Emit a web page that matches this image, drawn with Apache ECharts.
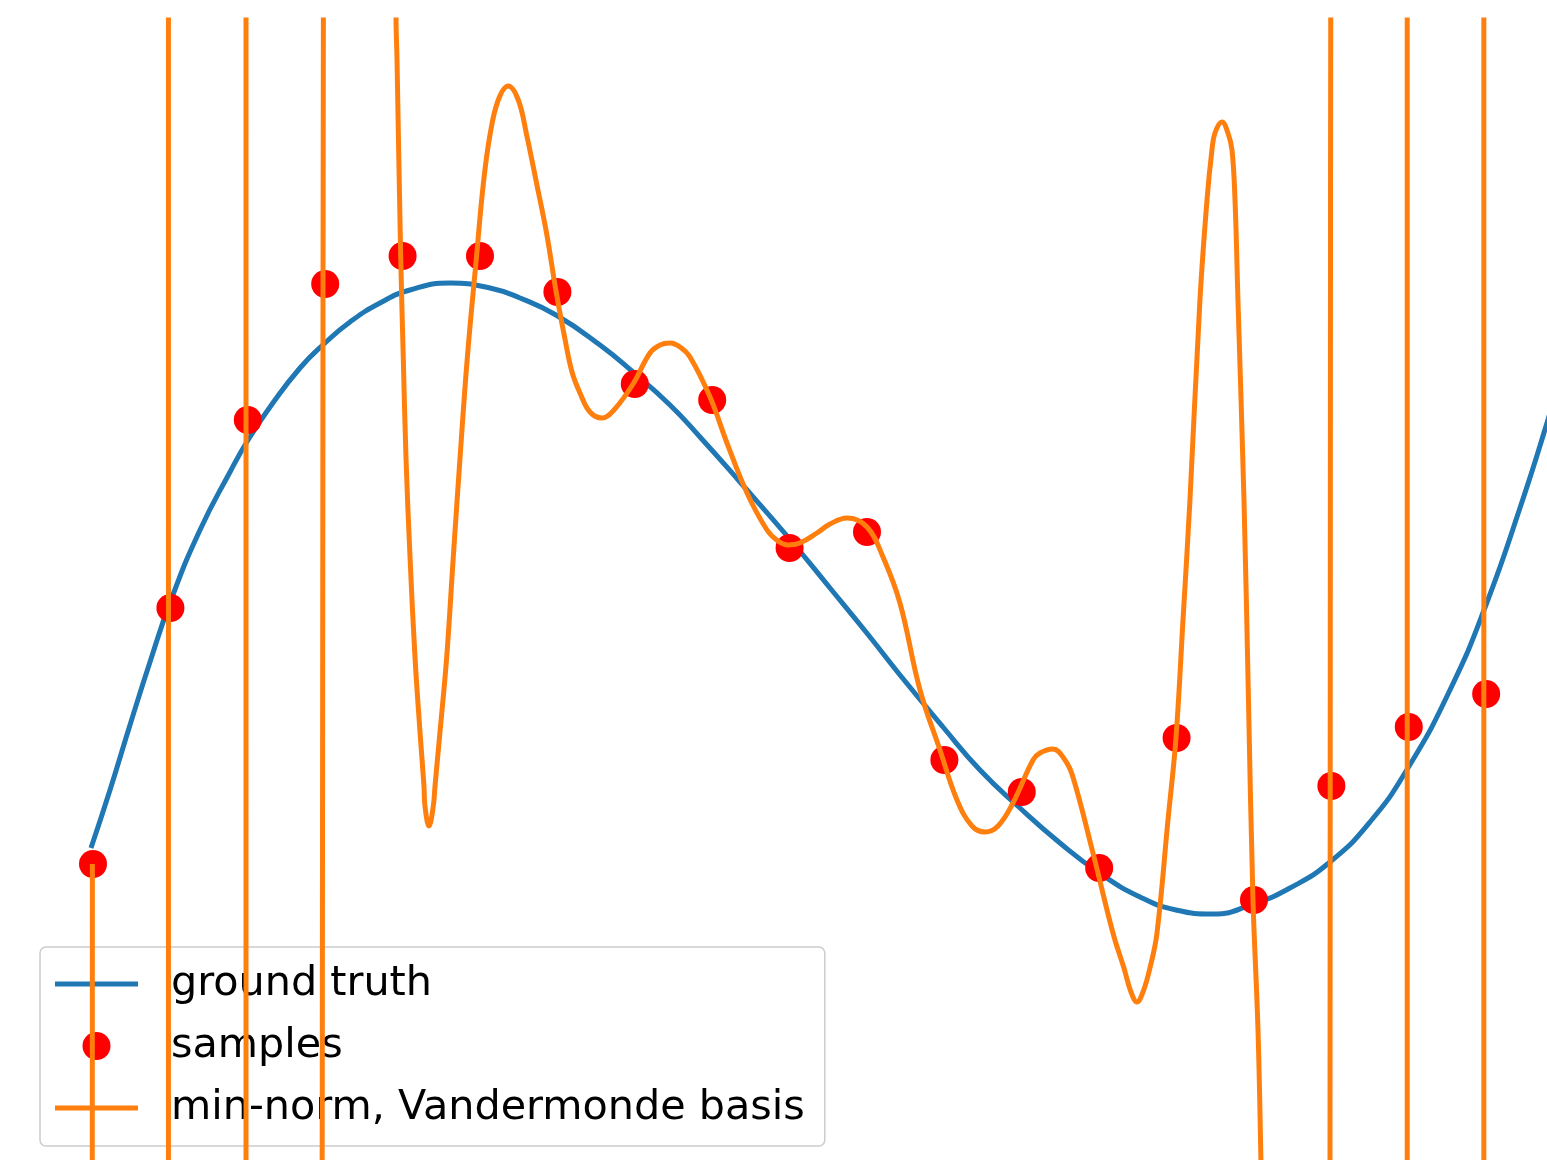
<!DOCTYPE html>
<html>
<head>
<meta charset="utf-8">
<title>min-norm interpolation</title>
<script src="https://cdn.jsdelivr.net/npm/echarts@6/dist/echarts.min.js"></script>
<style>
  html, body { margin: 0; padding: 0; background: #ffffff; }
  #chart { width: 1547px; height: 1160px; }
</style>
</head>
<body>
<div id="chart"></div>
<script>
// Noisy samples taken at equally spaced positions 0..18
const sampleX = [0, 1, 2, 3, 4, 5, 6, 7, 8, 9, 10, 11, 12, 13, 14, 15, 16, 17, 18];
const sampleY = [-0.26, 0.38, 0.85, 1.19, 1.26, 1.26, 1.17, 0.94, 0.90, 0.53, 0.57,
                 0.00, -0.08, -0.27, 0.055, -0.35, -0.065, 0.0825, 0.165];

// Smooth underlying function
const truthX = [-0.026, 0.2196, 0.478, 0.7364, 1.0078, 1.3824, 1.770, 2.0026, 2.2868, 2.6744,
                2.9974, 3.3204, 3.708, 4.0956, 4.6124, 5.1292, 5.5168, 5.9819, 6.5504, 6.9767,
                7.4548, 7.8424, 8.3592, 8.9793, 9.522, 9.9871, 10.4264, 10.9819, 11.4599,
                11.9767, 12.4935, 12.9845, 13.5271, 13.9922, 14.4703, 14.9871, 15.4651,
                15.9819, 16.4987, 16.9897, 17.5323, 17.9974, 18.4367, 18.7855, 18.992];
const truthY = [-0.22, -0.075, 0.0875, 0.245, 0.40, 0.575, 0.72, 0.80, 0.8825, 0.98,
                1.0425, 1.095, 1.1425, 1.175, 1.1925, 1.18, 1.155, 1.1125, 1.0375, 0.97,
                0.8875, 0.8075, 0.695, 0.5575, 0.43, 0.32, 0.2125, 0.0825, -0.025,
                -0.12, -0.2075, -0.28, -0.3425, -0.375, -0.385, -0.36, -0.32,
                -0.255, -0.155, -0.02, 0.175, 0.3875, 0.63, 0.8425, 0.98];

// Minimum-norm interpolant in the monomial (Vandermonde) basis;
// its large excursions leave the plotting window and are clipped.
const fitX = [-0.008, -0.012, 0.50,
              0.975, 0.975, 0.975, 1.48,
              1.977, 1.977, 1.977, 2.46,
              2.94, 2.972, 3.0, 3.45,
              3.89, 3.915, 3.928, 3.975, 4.009, 4.044, 4.096, 4.160, 4.225, 4.276, 4.289,
              4.341, 4.397, 4.419, 4.483, 4.570, 4.655, 4.742, 4.836, 4.957, 5.043, 5.129,
              5.236, 5.366, 5.495, 5.603, 5.733, 5.862, 5.982, 6.098, 6.189, 6.292, 6.421,
              6.576, 6.731, 6.977, 7.196, 7.326, 7.455, 7.584, 7.713, 7.972, 8.191, 8.450,
              8.708, 8.850, 8.979, 9.134, 9.354, 9.522, 9.742, 10.0, 10.207, 10.426, 10.685,
              10.943, 11.163, 11.357, 11.525, 11.693, 11.886, 12.145, 12.235, 12.403, 12.558,
              12.661, 12.920, 13.178, 13.320, 13.411, 13.488, 13.566, 13.656, 13.747, 13.889,
              13.992, 14.083, 14.173, 14.302, 14.393, 14.457, 14.496, 14.587, 14.664, 14.716,
              14.755, 14.793, 14.871, 14.929, 14.987, 15.052, 15.090, 15.155, 15.181,
              15.55,
              15.97, 15.985, 16.0, 16.5,
              16.98, 16.98, 16.98, 17.48,
              17.97, 17.97, 17.97];
const fitY = [-0.26, -3.0, -10,
              -3.0, 0.38, 3.0, 10,
              3.0, 0.85, -3.0, -10,
              -3.0, 1.19, 3.0, 10,
              3.0, 1.855, 1.75, 1.2625, 1.005, 0.755, 0.5075, 0.2575, 0.07, -0.065, -0.115,
              -0.165, -0.115, -0.065, 0.07, 0.2575, 0.5075, 0.755, 1.005, 1.2625, 1.44, 1.5625,
              1.65, 1.685, 1.65, 1.5625, 1.44, 1.315, 1.1725, 1.0525, 0.97, 0.9175, 0.87,
              0.855, 0.875, 0.94, 1.0175, 1.0375, 1.0425, 1.0325, 1.0075, 0.9075, 0.7925, 0.6675,
              0.575, 0.5475, 0.5375, 0.5425, 0.5675, 0.59, 0.605, 0.5825, 0.5075, 0.3925, 0.175,
              0.025, -0.10, -0.165, -0.18, -0.165, -0.1075, 0.0, 0.0175, 0.0275, 0.0,
              -0.0425, -0.2325, -0.4325, -0.52, -0.58, -0.605, -0.58, -0.52, -0.4325, -0.15,
              0.055, 0.35, 0.65, 1.15, 1.40, 1.525, 1.5675, 1.595, 1.5675, 1.525,
              1.40, 1.15, 0.65, 0.15, -0.3475, -0.675, -1.0, -1.6, -3.0,
              -10,
              -3.0, -0.065, 3.0, 10,
              3.0, 0.0825, -3.0, -10,
              -3.0, 0.165, 3.0];

const zip = (xs, ys) => xs.map((x, i) => [x, ys[i]]);

const chart = echarts.init(document.getElementById('chart'), null, { renderer: 'canvas' });

const lineIcon = 'path://M0,0H83V5H0Z';

chart.setOption({
  animation: false,
  backgroundColor: '#ffffff',
  grid: { left: 0, right: 0, top: 20, bottom: 0, containLabel: false },
  xAxis: { type: 'value', min: -1.2016, max: 18.786, show: false },
  yAxis: { type: 'value', min: -1.0, max: 1.85, show: false },
  legend: {
    orient: 'vertical',
    left: 40,
    top: 947,
    itemWidth: 83,
    itemHeight: 28,
    itemGap: 18,
    padding: [15, 20, 16, 15],
    backgroundColor: 'rgba(255,255,255,0.8)',
    borderColor: '#cccccc',
    borderWidth: 1.5,
    borderRadius: 6,
    selectedMode: false,
    textStyle: {
      fontFamily: 'DejaVu Sans',
      fontSize: 41.3,
      color: '#000000',
      lineHeight: 44,
      padding: [0, 0, 0, 28]
    },
    data: [
      { name: 'ground truth', icon: lineIcon },
      { name: 'samples', icon: 'circle' },
      { name: 'min-norm, Vandermonde basis', icon: lineIcon }
    ]
  },
  series: [
    {
      name: 'ground truth',
      type: 'line',
      z: 2,
      data: zip(truthX, truthY),
      smooth: 0.5,
      symbol: 'none',
      lineStyle: { color: '#1f77b4', width: 5 },
      itemStyle: { color: '#1f77b4' }
    },
    {
      name: 'samples',
      type: 'scatter',
      z: 3,
      data: zip(sampleX, sampleY),
      symbol: 'circle',
      symbolSize: 28,
      itemStyle: { color: '#ff0000', opacity: 1 }
    },
    {
      name: 'min-norm, Vandermonde basis',
      type: 'line',
      z: 4,
      data: zip(fitX, fitY),
      smooth: 0.4,
      symbol: 'none',
      lineStyle: { color: '#ff7f0e', width: 5 },
      itemStyle: { color: '#ff7f0e' }
    }
  ]
});
</script>
</body>
</html>
